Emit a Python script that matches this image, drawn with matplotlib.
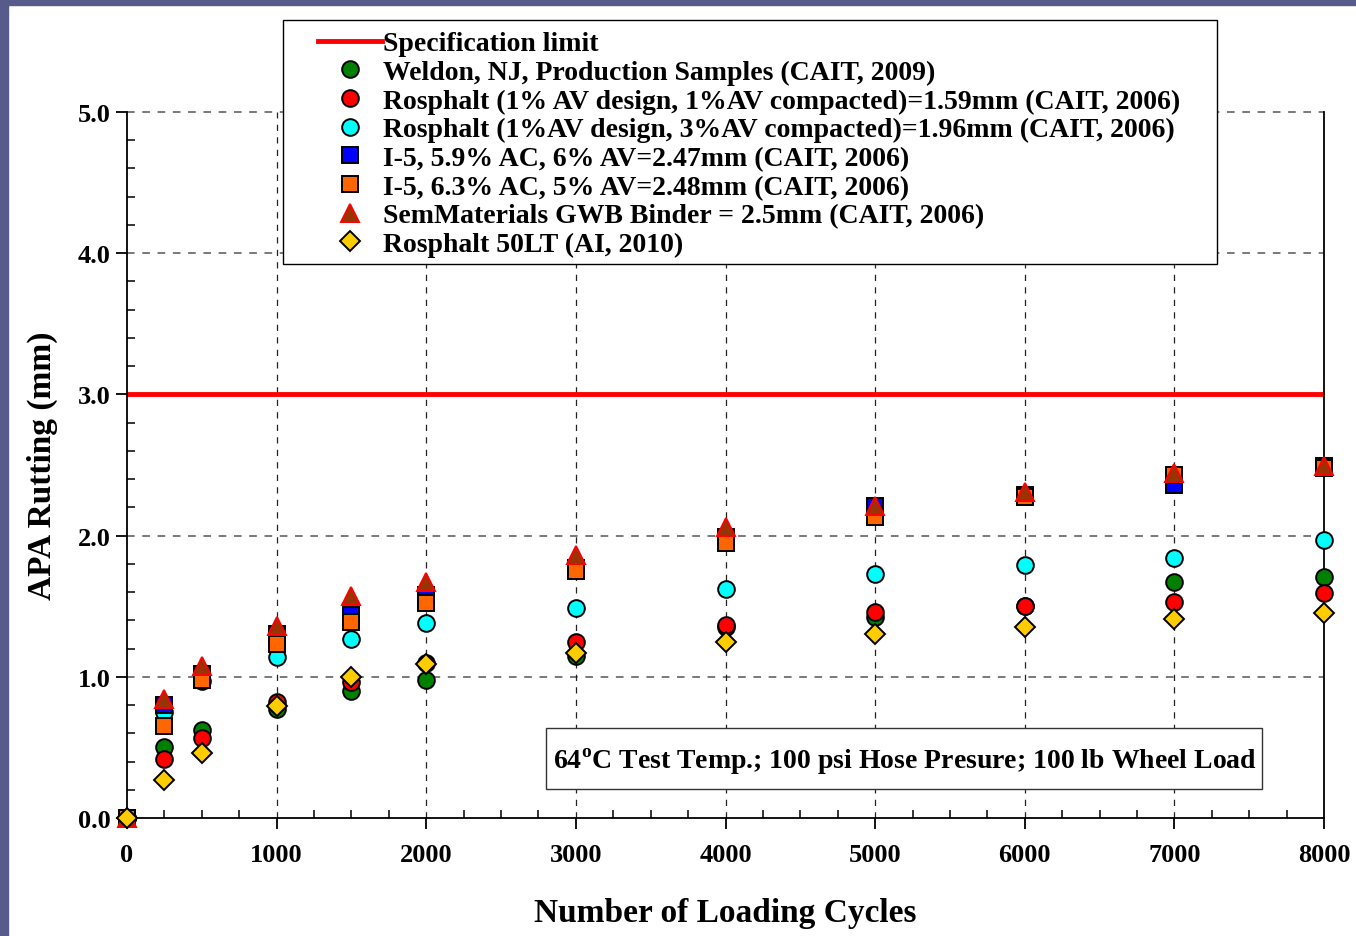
#!/usr/bin/env python3
"""APA rutting vs. number of loading cycles for several asphalt mixes."""

import matplotlib
matplotlib.use("Agg")
import matplotlib.pyplot as plt
from matplotlib.legend_handler import HandlerLine2D
from matplotlib.patches import Rectangle
from matplotlib.ticker import MultipleLocator

plt.rcParams["font.family"] = ["Liberation Serif", "DejaVu Serif"]
plt.rcParams["font.weight"] = "bold"
plt.rcParams["mathtext.fontset"] = "custom"
plt.rcParams["mathtext.bf"] = "Liberation Serif:bold"
plt.rcParams["mathtext.rm"] = "Liberation Serif:bold"

cycles = [0, 250, 500, 1000, 1500, 2000, 3000, 4000, 5000, 6000, 7000, 8000]

weldon = [0, 0.50, 0.62, 0.77, 0.90, 0.98, 1.15, 1.35, 1.42, 1.50, 1.67, 1.71]
rosphalt_1av = [0, 0.42, 0.57, 0.82, 0.96, 1.10, 1.25, 1.37, 1.46, 1.50, 1.53, 1.59]
rosphalt_3av = [0, 0.75, 0.97, 1.14, 1.27, 1.38, 1.49, 1.62, 1.73, 1.79, 1.84, 1.97]
i5_59ac = [0, 0.80, 1.02, 1.30, 1.44, 1.58, 1.77, 1.99, 2.21, 2.29, 2.36, 2.49]
i5_63ac = [0, 0.65, 0.98, 1.23, 1.39, 1.52, 1.75, 1.95, 2.13, 2.27, 2.43, 2.48]
semmaterials = [0, 0.84, 1.08, 1.36, 1.57, 1.67, 1.86, 2.06, 2.21, 2.31, 2.44, 2.49]
rosphalt_50lt = [0, 0.27, 0.46, 0.79, 1.00, 1.09, 1.17, 1.25, 1.30, 1.35, 1.41, 1.45]

spec_limit = 3.0

labels = [
    "Weldon, NJ, Production Samples (CAIT, 2009)",
    "Rosphalt (1% AV design, 1%AV compacted)=1.59mm (CAIT, 2006)",
    "Rosphalt (1%AV design, 3%AV compacted)=1.96mm (CAIT, 2006)",
    "I-5, 5.9% AC, 6% AV=2.47mm (CAIT, 2006)",
    "I-5, 6.3% AC, 5% AV=2.48mm (CAIT, 2006)",
    "SemMaterials GWB Binder = 2.5mm (CAIT, 2006)",
    "Rosphalt 50LT (AI, 2010)",
]
series = [weldon, rosphalt_1av, rosphalt_3av, i5_59ac, i5_63ac, semmaterials, rosphalt_50lt]
styles = [
    dict(marker="o", mfc="#008000", mec="black", ms=12),
    dict(marker="o", mfc="#FF0000", mec="black", ms=12),
    dict(marker="o", mfc="#00FFFF", mec="black", ms=12),
    dict(marker="s", mfc="#0000FF", mec="black", ms=11.5),
    dict(marker="s", mfc="#FF6600", mec="black", ms=11.5),
    dict(marker="^", mfc="#993300", mec="#FF0000", ms=13.5),
    dict(marker="D", mfc="#FFCC00", mec="black", ms=10.5),
]

W, H = 1356, 937
fig = plt.figure(figsize=(W / 100, H / 100), dpi=100)
# slide background strips on the left and top
fig.patches.append(Rectangle((0, 0), 8 / W, 1, transform=fig.transFigure,
                             color="#575B8C", zorder=0))
fig.patches.append(Rectangle((0, 1 - 6 / H), 1, 6 / H, transform=fig.transFigure,
                             color="#575B8C", zorder=0))

ax = fig.add_axes([127 / W, 1 - 819 / H, 1197 / W, 706 / H])
ax.set_xlim(0, 8000)
ax.set_ylim(0, 5)

ax.spines["top"].set_visible(False)
for s in ("left", "bottom", "right"):
    ax.spines[s].set_linewidth(1.3)

# dashed grid, spec line replaces the 3.0 one
for yv in (1, 2, 4, 5):
    ax.axhline(yv, color="#555555", ls=(0, (5, 5)), lw=1.1, zorder=1, clip_on=False)
for xv in range(1000, 8000, 1000):
    ax.axvline(xv, color="#222222", ls=(0, (5, 5)), lw=0.9, zorder=1)

ax.xaxis.set_major_locator(MultipleLocator(1000))
ax.xaxis.set_minor_locator(MultipleLocator(250))
ax.yaxis.set_major_locator(MultipleLocator(1))
ax.yaxis.set_minor_locator(MultipleLocator(0.2))
ax.yaxis.set_major_formatter(lambda v, p: f"{v:.1f}")
ax.tick_params(which="major", direction="out", length=8, width=1.3, labelsize=19)
ax.tick_params(which="minor", direction="in", length=6, width=1.1)
ax.tick_params(axis="x", which="major", pad=10)
ax.tick_params(axis="y", which="major", pad=4)
for lab in ax.get_xticklabels() + ax.get_yticklabels():
    lab.set_fontweight("bold")

handles = []
spec, = ax.plot([0, 8000], [spec_limit, spec_limit], color="#FF0000", lw=3.5,
                zorder=2, label="Specification limit")
handles.append(spec)
for vals, lab, st in zip(series, labels, styles):
    h, = ax.plot(cycles, vals, ls="none", mew=1.4, label=lab, zorder=3,
                 clip_on=False, **st)
    handles.append(h)

ax.set_xlabel("Number of Loading Cycles", fontsize=24, fontweight="bold", labelpad=22)
ax.set_ylabel("APA Rutting (mm)", fontsize=24, fontweight="bold", labelpad=14)

# legend frame drawn separately so the entries can sit well inside it
fig.patches.append(Rectangle((283 / W, 1 - 265 / H), 934 / W, 244 / H,
                             transform=fig.transFigure, fc="white", ec="black",
                             lw=1.0, zorder=4))
leg = fig.legend(handles=handles, loc="upper left",
                 bbox_to_anchor=(318 / W, 1 - 32 / H), fontsize=20,
                 frameon=False, labelspacing=0.115, handlelength=2.3,
                 handletextpad=0.05, borderpad=0, borderaxespad=0, numpoints=1,
                 handler_map={spec: HandlerLine2D(numpoints=1)})
leg.set_zorder(5)
for t in leg.get_texts():
    t.set_fontweight("bold")

# test conditions box
ax.add_patch(Rectangle(((546 - 127) / 1197, (819 - 790) / 706), 716 / 1197, 61 / 706,
                       transform=ax.transAxes, fc="white", ec="#333333", lw=1.0,
                       zorder=5))
ax.text((905 - 127) / 1197, (819 - 762) / 706,
        r"64$^{\mathbf{o}}$C Test Temp.; 100 psi Hose Presure; 100 lb Wheel Load",
        transform=ax.transAxes, fontsize=20, fontweight="bold", ha="center",
        va="center", zorder=6)

fig.savefig("out.png", dpi=100)
